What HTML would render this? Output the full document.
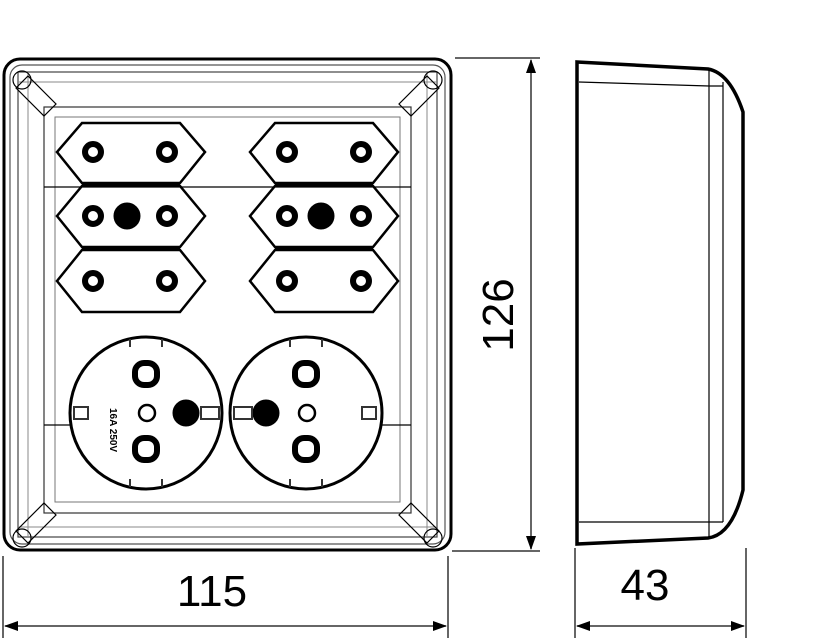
<!DOCTYPE html>
<html><head><style>html,body{margin:0;padding:0;background:#fff}svg{display:block}</style></head>
<body>
<svg width="827" height="638" viewBox="0 0 827 638" xmlns="http://www.w3.org/2000/svg" font-family="Liberation Sans, sans-serif">
<g fill="none" stroke="#000">
<rect x="4" y="59" width="447" height="491" rx="16" stroke-width="3"/>
<rect x="10" y="65" width="435" height="479" rx="12" stroke-width="1.2" stroke="#555"/>
<rect x="18" y="72" width="419" height="465" stroke-width="1.2" stroke="#444"/>
<line x1="18" y1="82" x2="437" y2="82" stroke-width="1" stroke="#888"/>
<line x1="18" y1="527" x2="437" y2="527" stroke-width="1" stroke="#888"/>
<line x1="28" y1="72" x2="28" y2="537" stroke-width="1" stroke="#888"/>
<line x1="427" y1="72" x2="427" y2="537" stroke-width="1" stroke="#888"/>
<rect x="44" y="107" width="367" height="406" stroke-width="1.2" stroke="#333"/>
<rect x="55" y="117" width="345" height="385" stroke-width="1" stroke="#777"/>
<line x1="44" y1="187" x2="411" y2="187" stroke-width="1.2"/>
<line x1="44" y1="425" x2="72" y2="425" stroke-width="1.2"/>
<line x1="380" y1="425" x2="411" y2="425" stroke-width="1.2"/>
<g stroke-width="1.2">
<path d="M16 88 L28 76 L56 104 L44 116 Z"/>
<path d="M439 88 L427 76 L399 104 L411 116 Z"/>
<path d="M16 531 L28 543 L56 515 L44 503 Z"/>
<path d="M439 531 L427 543 L399 515 L411 503 Z"/>
<circle cx="22" cy="80" r="9"/><circle cx="433" cy="80" r="9"/>
<circle cx="22" cy="538" r="9"/><circle cx="433" cy="538" r="9"/>
</g>
<g stroke-width="2.5">
<path d="M82 123 H180 L205 152 L180 183 H82 L57 152 Z"/>
<path d="M82 186 H180 L205 216 L180 247 H82 L57 216 Z"/>
<path d="M82 250 H180 L205 281 L180 312 H82 L57 281 Z"/>
<path d="M275 123 H373 L398 152 L373 183 H275 L250 152 Z"/>
<path d="M275 186 H373 L398 216 L373 247 H275 L250 216 Z"/>
<path d="M275 250 H373 L398 281 L373 312 H275 L250 281 Z"/>
</g>
<g stroke-width="5">
<line x1="82" y1="184.5" x2="180" y2="184.5"/><line x1="82" y1="248.5" x2="180" y2="248.5"/>
<line x1="275" y1="184.5" x2="373" y2="184.5"/><line x1="275" y1="248.5" x2="373" y2="248.5"/>
</g>
<g stroke-width="6">
<circle cx="93" cy="152" r="8"/><circle cx="167" cy="152" r="8"/>
<circle cx="93" cy="216" r="8"/><circle cx="167" cy="216" r="8"/>
<circle cx="93" cy="281" r="8"/><circle cx="167" cy="281" r="8"/>
<circle cx="287" cy="152" r="8"/><circle cx="361" cy="152" r="8"/>
<circle cx="287" cy="216" r="8"/><circle cx="361" cy="216" r="8"/>
<circle cx="287" cy="281" r="8"/><circle cx="361" cy="281" r="8"/>
</g>
<circle cx="127" cy="216" r="13" fill="#000"/>
<circle cx="321" cy="216" r="13" fill="#000"/>
<g stroke-width="3">
<circle cx="146" cy="413" r="76"/>
<circle cx="306" cy="413" r="76"/>
</g>
<g stroke-width="6">
<rect x="135" y="363" width="22" height="22" rx="9"/>
<rect x="135" y="438" width="22" height="22" rx="9"/>
<rect x="295" y="363" width="22" height="22" rx="9"/>
<rect x="295" y="438" width="22" height="22" rx="9"/>
</g>
<g stroke-width="2.5"><circle cx="147" cy="413" r="8"/><circle cx="307" cy="413" r="8"/></g>
<circle cx="186" cy="413" r="13" fill="#000"/>
<circle cx="266" cy="413" r="13" fill="#000"/>
<g stroke-width="2" stroke="#333">
<rect x="74" y="407" width="14" height="12"/><rect x="201" y="407" width="18" height="12"/>
<rect x="234" y="407" width="18" height="12"/><rect x="362" y="407" width="14" height="12"/>
<path d="M130 339 v8 M162 339 v8 M130 479 v8 M162 479 v8 M290 339 v8 M322 339 v8 M290 479 v8 M322 479 v8"/>
</g>
<path d="M577 62 L708 69 Q730 73 743 112 V490 Q732 535 708 538 L577 544 Z" stroke-width="3.5"/>
<path d="M579 82 L709 86 M709 69 V538 M723 82 V522 M579 522 L709 522 M709 86 H723 M709 522 H723" stroke-width="1.2"/>
<g stroke-width="1.5" stroke="#333">
<line x1="3" y1="556" x2="3" y2="638"/><line x1="448" y1="556" x2="448" y2="638"/>
<line x1="5" y1="626" x2="446" y2="626"/>
<line x1="455" y1="58" x2="540" y2="58"/><line x1="452" y1="551" x2="540" y2="551"/>
<line x1="531" y1="60" x2="531" y2="549"/>
<line x1="575" y1="548" x2="575" y2="638"/><line x1="746" y1="548" x2="746" y2="638"/>
<line x1="577" y1="626" x2="744" y2="626"/>
</g>
</g>
<g fill="#000">
<path d="M4 626 L18 621 L18 631 Z"/><path d="M447 626 L433 621 L433 631 Z"/>
<path d="M531 59 L526 73 L536 73 Z"/><path d="M531 550 L526 536 L536 536 Z"/>
<path d="M576 626 L590 621 L590 631 Z"/><path d="M745 626 L731 621 L731 631 Z"/>
</g>
<text x="98" y="420" font-size="10" font-weight="bold" transform="rotate(90 110 420)">16A 250V</text>
<text x="212" y="606" font-size="44" text-anchor="middle">115</text>
<text x="645" y="600" font-size="44" text-anchor="middle">43</text>
<text x="0" y="0" font-size="44" text-anchor="middle" transform="translate(513 315) rotate(-90)">126</text>
</svg>
</body></html>
